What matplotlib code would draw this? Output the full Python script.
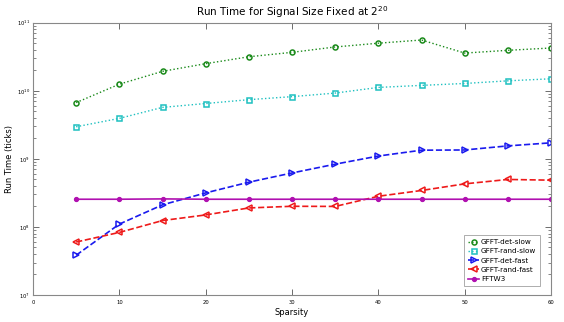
import matplotlib
matplotlib.use("Agg")
import matplotlib.pyplot as plt
from matplotlib.ticker import LogLocator, FixedLocator

sparsity = [5, 10, 15, 20, 25, 30, 35, 40, 45, 50, 55, 60]
det_slow = [6.7e9, 1.25e10, 1.93e10, 2.5e10, 3.16e10, 3.67e10, 4.4e10, 5.0e10, 5.57e10, 3.58e10, 3.93e10, 4.25e10]
rand_slow = [2.96e9, 3.93e9, 5.7e9, 6.5e9, 7.4e9, 8.2e9, 9.25e9, 1.12e10, 1.2e10, 1.28e10, 1.4e10, 1.5e10]
det_fast = [3.84e7, 1.1e8, 2.11e8, 3.16e8, 4.54e8, 6.2e8, 8.35e8, 1.1e9, 1.34e9, 1.35e9, 1.55e9, 1.72e9]
rand_fast = [6.0e7, 8.3e7, 1.24e8, 1.5e8, 1.9e8, 2.01e8, 2.0e8, 2.82e8, 3.43e8, 4.29e8, 4.98e8, 4.86e8]
fftw3 = [2.55e8, 2.55e8, 2.58e8, 2.55e8, 2.55e8, 2.55e8, 2.55e8, 2.55e8, 2.55e8, 2.55e8, 2.55e8, 2.55e8]

fig = plt.figure(figsize=(5.64, 3.22), dpi=100)
ax = fig.add_axes([0.0585, 0.0839, 0.9185, 0.8456])

ax.plot(sparsity, det_slow, ':', color='#1a8a1a', marker='o', mfc='none', mew=1.1, ms=3.6, lw=1, label='GFFT-det-slow')
ax.plot(sparsity, rand_slow, ':', color='#1ec0c0', marker='s', mfc='none', mew=1.1, ms=3.6, lw=1, label='GFFT-rand-slow')
ax.plot(sparsity, det_fast, '--', color='#1a1aee', marker='>', mfc='none', mew=1.1, ms=4.5, lw=1.2, label='GFFT-det-fast')
ax.plot(sparsity, rand_fast, '--', color='#ee1a1a', marker='<', mfc='none', mew=1.1, ms=4.5, lw=1.2, label='GFFT-rand-fast')
ax.plot(sparsity, fftw3, '-', color='#b010b0', marker='o', ms=2.8, lw=1.2, label='FFTW3')

ax.set_yscale('log')
ax.set_xlim(0, 60)
ax.set_ylim(1e7, 1e11)
ax.xaxis.set_major_locator(FixedLocator([0, 10, 20, 30, 40, 50, 60]))
ax.yaxis.set_major_locator(LogLocator(base=10, numticks=10))
ax.yaxis.set_minor_locator(LogLocator(base=10, subs=range(2, 10), numticks=10))
ax.tick_params(which='both', direction='in', top=True, right=True, labelsize=3.8, colors='#555555', labelcolor='black')
ax.tick_params(which='major', length=4, width=0.6)
ax.tick_params(which='minor', length=2, width=0.5)
ax.tick_params(axis='x', which='minor', bottom=False, top=False)
ax.tick_params(axis='y', pad=2)
for s in ax.spines.values():
    s.set_color('#888888')
    s.set_linewidth(0.8)

ax.set_title('Run Time for Signal Size Fixed at $2^{20}$', fontsize=7.5, pad=5)
ax.set_xlabel('Sparsity', fontsize=6, labelpad=2)
ax.set_ylabel('Run Time (ticks)', fontsize=6, labelpad=2)

leg = ax.legend(loc='lower right', fontsize=5.2, frameon=True, fancybox=False, edgecolor='#888888',
                handlelength=1.6, borderpad=0.5, labelspacing=0.45, handletextpad=0.2,
                bbox_to_anchor=(0.985, 0.02))
leg.get_frame().set_linewidth(0.6)

fig.savefig('out.png', dpi=100)
